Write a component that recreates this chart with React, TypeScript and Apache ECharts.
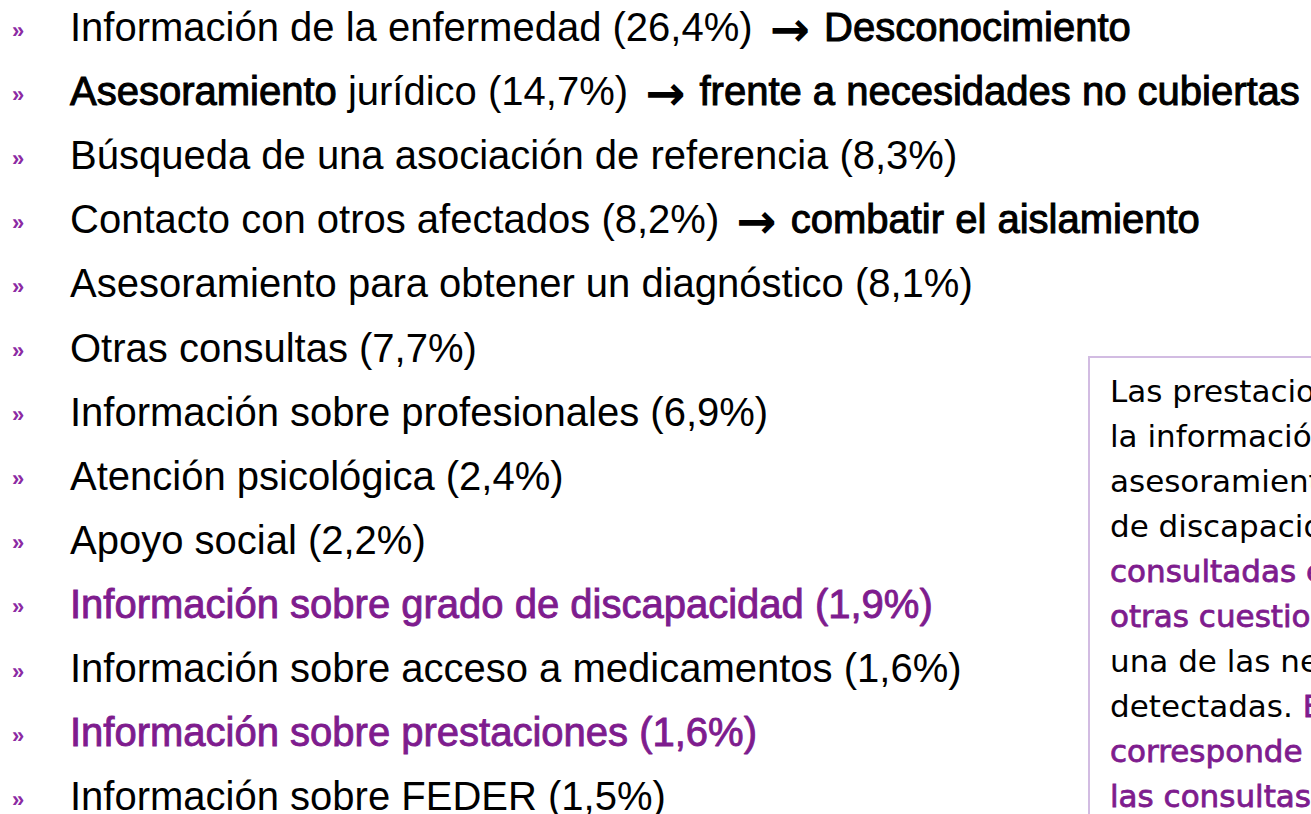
import React, { useEffect, useRef } from "react";
import * as echarts from "echarts";

// ---- Data ----
const itemBoldPrefix = ["", "Asesoramiento", "", "", "", "", "", "", "", "", "", "", ""];
const itemLabels = [
  "Información de la enfermedad",
  " jurídico",
  "Búsqueda de una asociación de referencia",
  "Contacto con otros afectados",
  "Asesoramiento para obtener un diagnóstico",
  "Otras consultas",
  "Información sobre profesionales",
  "Atención psicológica",
  "Apoyo social",
  "Información sobre grado de discapacidad",
  "Información sobre acceso a medicamentos",
  "Información sobre prestaciones",
  "Información sobre FEDER",
];
const itemShares = ["26,4", "14,7", "8,3", "8,2", "8,1", "7,7", "6,9", "2,4", "2,2", "1,9", "1,6", "1,6", "1,5"];
const itemNotes = [
  "Desconocimiento",
  "frente a necesidades no cubiertas",
  "",
  "combatir el aislamiento",
  "", "", "", "", "", "", "", "", "",
];
const highlightedItems = [9, 11];

// Box text: each line is a list of [text, highlighted]
const boxLines: [string, boolean][][] = [
  [["Las prestaciones y", false]],
  [["la información sobre", false]],
  [["asesoramiento del grado", false]],
  [["de discapacidad son", false]],
  [["consultadas en menor", true]],
  [["otras cuestiones, siendo", true]],
  [["una de las necesidades", false]],
  [["detectadas. ", false], ["Esto", true]],
  [["corresponde a", true]],
  [["las consultas", true]],
];

const PURPLE = "#7E1C8E";
const BULLET = "#8C2AA3";
const BOX_BORDER = "#D2BCE2";

export default function App() {
  const ref = useRef<HTMLDivElement>(null);

  useEffect(() => {
    document.body.style.margin = "0";
    const chart = echarts.init(ref.current!, null, { renderer: "svg" });

    const listFont = "Liberation Sans";
    const lineStep = 64.1;
    const firstCenter = 27;
    const elements: any[] = [];

    itemLabels.forEach((label, i) => {
      const cy = firstCenter + i * lineStep;
      const hl = highlightedItems.includes(i);
      let s = "";
      if (itemBoldPrefix[i]) s += `{d|${itemBoldPrefix[i]}}`;
      const base = `${label} (${itemShares[i]}%)`;
      s += hl ? `{h|${base}}` : `{n|${base}}`;
      if (itemNotes[i]) s += `{n| }{a|→}{n| }{d|${itemNotes[i]}}`;
      elements.push({
        type: "text",
        x: 12,
        y: cy + 3,
        style: {
          text: "»",
          fill: BULLET,
          fontFamily: listFont,
          fontSize: 22,
          fontWeight: "bold",
          verticalAlign: "middle",
        },
      });
      elements.push({
        type: "text",
        x: 70,
        y: cy,
        style: {
          text: s,
          fontFamily: listFont,
          fontSize: 40,
          verticalAlign: "middle",
          rich: {
            n: { fontFamily: listFont, fontSize: 40, lineHeight: 48, fill: "#000000" },
            d: { fontFamily: listFont, fontSize: 40, lineHeight: 48, fill: "#000000", stroke: "#000000", lineWidth: 1 },
            h: { fontFamily: listFont, fontSize: 40, lineHeight: 48, fill: PURPLE, stroke: PURPLE, lineWidth: 0.9 },
            a: { fontFamily: "DejaVu Sans", fontWeight: "bold", fontSize: 48, lineHeight: 48, fill: "#000000", padding: [4, 3, 0, 6] },
          },
        },
      });
    });

    elements.push({
      type: "rect",
      shape: { x: 1089, y: 357, width: 400, height: 600 },
      style: { fill: "#ffffff", stroke: BOX_BORDER, lineWidth: 2 },
    });

    const boxFont = "DejaVu Sans";
    boxLines.forEach((parts, k) => {
      const s = parts.map(([t, hl]) => (hl ? `{h|${t}}` : `{n|${t}}`)).join("");
      elements.push({
        type: "text",
        x: 1110,
        y: 391 + k * 45,
        style: {
          text: s,
          fontFamily: boxFont,
          fontSize: 31,
          verticalAlign: "middle",
          rich: {
            n: { fontFamily: boxFont, fontSize: 31, fill: "#000000" },
            h: { fontFamily: boxFont, fontSize: 31, fill: PURPLE, stroke: PURPLE, lineWidth: 0.8 },
          },
        },
      });
    });

    chart.setOption({
      animation: false,
      backgroundColor: "#ffffff",
      graphic: { elements },
    });

    return () => chart.dispose();
  }, []);

  return (
    <div
      ref={ref}
      style={{ position: "fixed", left: 0, top: 0, width: 1311, height: 814 }}
    />
  );
}
